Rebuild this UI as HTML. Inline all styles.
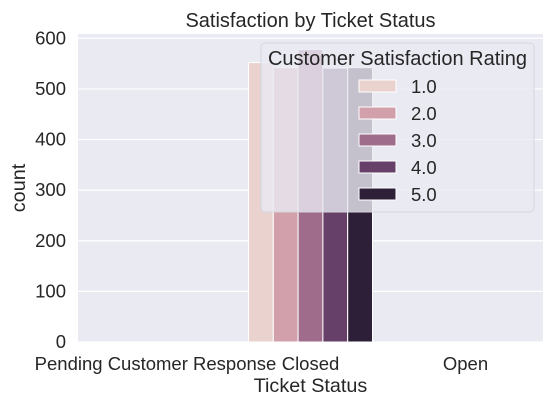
<!DOCTYPE html>
<html><head><meta charset="utf-8"><style>
body{margin:0;background:#fff;}
svg{font-family:"Liberation Sans",Arial,sans-serif;}
</style></head><body>
<svg width="553" height="407" xmlns="http://www.w3.org/2000/svg">
</svg>
<script>
const categories = ["Pending Customer Response","Closed","Open"];
const hues = ["1.0","2.0","3.0","4.0","5.0"];
const colors = ["#ead3cf","#d1a0aa","#a06c8b","#67406a","#2e1f39"];
const counts = [[0,0,0,0,0],[552,542,578,541,542],[0,0,0,0,0]];
const yTicks = [0,100,200,300,400,500,600];
const NS="http://www.w3.org/2000/svg";
const svg=document.querySelector("svg");
const L=78,R=543,T=34,B=342,yMax=608.5;
const y=v=>B-(v/yMax)*(B-T);
const step=(R-L)/categories.length;
const xc=i=>L+step*(i+0.5);
function el(t,a,txt){const e=document.createElementNS(NS,t);for(const k in a)e.setAttribute(k,a[k]);if(txt!=null)e.textContent=txt;svg.appendChild(e);return e;}
let bg=el("rect",{x:L,y:T,width:R-L,height:B-T,fill:"#eaeaf2"});


yTicks.forEach(t=>{
  let g=el("line",{x1:L,x2:R,y1:y(t),y2:y(t),stroke:"#fff","stroke-width":1.2});
  
  
  let lb=el("text",{x:L-12,y:y(t)+6,"text-anchor":"end","font-size":18.5,fill:"#262626"},t);
  
  
});
const gw=step*0.8,bw=gw/hues.length;
categories.forEach((c,i)=>{
  hues.forEach((h,j)=>{
    const v=counts[i][j];
    let b=el("rect",{x:xc(i)-gw/2+j*bw,y:y(v),width:bw,height:B-y(v),fill:colors[j],stroke:"#fff","stroke-width":1});
    
    
  });
  let lb=el("text",{x:xc(i),y:B+28,"text-anchor":"middle","font-size":18.5,fill:"#262626"},c);
  
  
});
let t=el("text",{x:(L+R)/2,y:27,"text-anchor":"middle","font-size":20,fill:"#262626"},"Satisfaction by Ticket Status");


let xl=el("text",{x:(L+R)/2,y:392,"text-anchor":"middle","font-size":19.8,fill:"#262626"},"Ticket Status");


let yl=el("text",{x:0,y:0,"text-anchor":"middle","font-size":19.8,fill:"#262626",transform:"translate(25,"+((T+B)/2)+") rotate(-90)"},"count");


let lg=el("rect",{x:261,y:43,width:273,height:169,rx:4,fill:"#eaeaf2","fill-opacity":0.8,stroke:"#d6d6dc"});


let lt=el("text",{x:397.5,y:65,"text-anchor":"middle","font-size":20,fill:"#262626"},"Customer Satisfaction Rating");


hues.forEach((h,j)=>{
  const yy=86+j*27;
  let s=el("rect",{x:359,y:yy-6,width:37,height:12,fill:colors[j],stroke:"#fff","stroke-width":1});
  
  
  let tx=el("text",{x:411,y:yy+7,"font-size":18.5,fill:"#262626"},h);
  
  
});
</script>
</body></html>
